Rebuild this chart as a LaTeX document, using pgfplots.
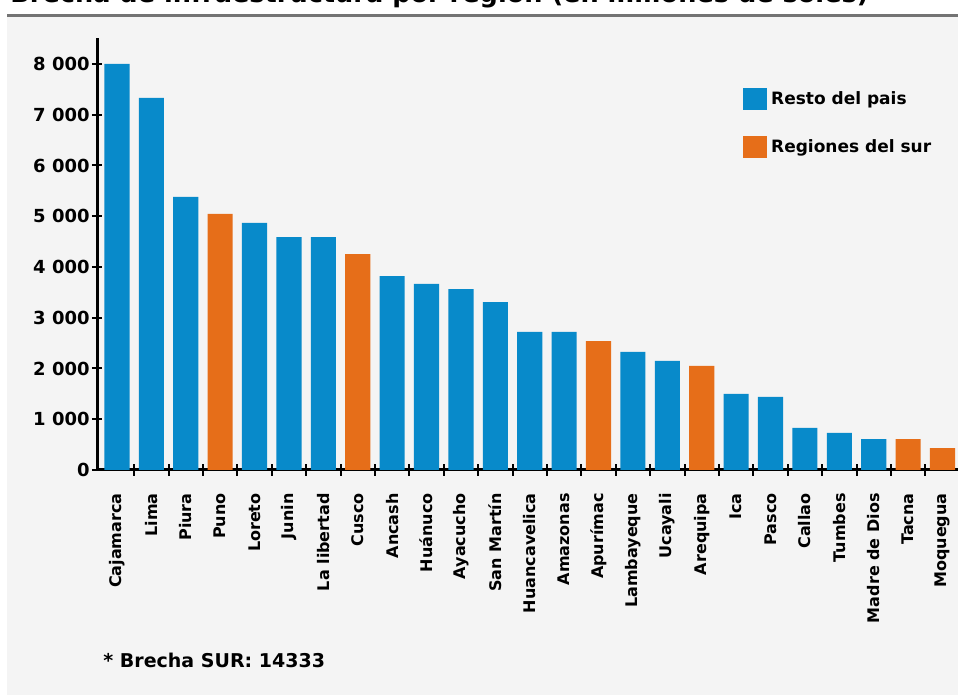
\documentclass[border=0pt]{standalone}
\usepackage{pgfplots}
\pgfplotsset{compat=1.18}
\usepackage{fontspec}
\setmainfont{DejaVu Sans}
\definecolor{resto}{RGB}{8,138,202}
\definecolor{sur}{RGB}{230,110,25}
\definecolor{panel}{RGB}{244,244,244}

\begin{document}
\begin{tikzpicture}[x=1pt,y=1pt]
\useasboundingbox (0,0) rectangle (479,347.5);
\clip (0,0) rectangle (479,347.5);
\fill[white] (0,0) rectangle (479,347.5);
\fill[panel] (3.5,0) rectangle (479,339);
\draw[black!55, line width=1.2pt] (3.5,339.8) -- (479,339.8);
% titulo (cortado arriba, como en la imagen)
\node[anchor=base west, inner sep=0pt, font=\bfseries\fontsize{12.8}{12.8}\selectfont]
  at (5,346.3) {Brecha de infraestructura por región (en millones de soles)};

\begin{axis}[
  at={(48.5pt,112.5pt)}, anchor=south west,
  scale only axis, width=430.5pt, height=216pt,
  xmin=-0.58, xmax=24.45, ymin=0, ymax=8512,
  axis x line*=bottom, axis y line*=left,
  axis line style={line width=1.5pt, black},
  clip=false,
  % --- y ---
  ytick={0,1000,...,8000},
  yticklabels={0,1 000,2 000,3 000,4 000,5 000,6 000,7 000,8 000},
  yticklabel style={font=\bfseries\fontsize{9}{9}\selectfont, inner sep=1pt},
  % --- x: etiquetas en las barras, marcas entre barras ---
  xtick={0,...,24},
  xticklabels={Cajamarca, Lima, Piura, Puno, Loreto, Junin, La libertad, Cusco,
    Ancash, Huánuco, Ayacucho, San Martín, Huancavelica, Amazonas, Apurímac,
    Lambayeque, Ucayali, Arequipa, Ica, Pasco, Callao, Tumbes, Madre de Dios,
    Tacna, Moquegua},
  xticklabel style={rotate=90, anchor=east, font=\bfseries\fontsize{8}{8}\selectfont,
    inner sep=0pt},
  xticklabel shift=9pt,
  minor xtick={0.5,1.5,...,23.5},
  major x tick style={draw=none},
  tick align=center,
  major tick length=5pt, minor tick length=6pt,
  tick style={line width=1pt, black},
  % --- leyenda ---
  legend style={at={(0.75,0.887)}, anchor=north west, draw=none, fill=none,
    inner sep=0pt, row sep=12pt,
    font=\bfseries\fontsize{8.5}{8.5}\selectfont,
    /tikz/every even column/.style={column sep=1pt}},
  legend cell align=left,
]
\addplot[ybar, bar shift=0pt, bar width=0.73, fill=resto, draw=none,
  legend image code/.code={\fill[resto] (0pt,-5.5pt) rectangle (12pt,5.5pt);}]
  coordinates {
  (0,8000) (1,7330) (2,5380) (4,4870) (5,4590) (6,4590) (8,3820) (9,3665)
  (10,3565) (11,3310) (12,2720) (13,2720) (15,2325) (16,2150) (18,1500)
  (19,1440) (20,830) (21,730) (22,610)
};
\addplot[ybar, bar shift=0pt, bar width=0.73, fill=sur, draw=none,
  legend image code/.code={\fill[sur] (0pt,-5.5pt) rectangle (12pt,5.5pt);}]
  coordinates {
  (3,5045) (7,4255) (14,2540) (17,2050) (23,610) (24,430)
};
\legend{Resto del pais, Regiones del sur}
\end{axis}

\node[anchor=west, inner sep=0pt, font=\bfseries\fontsize{9.5}{9.5}\selectfont]
  at (51.5,17.5) {* Brecha SUR: 14333};
\end{tikzpicture}
\end{document}
